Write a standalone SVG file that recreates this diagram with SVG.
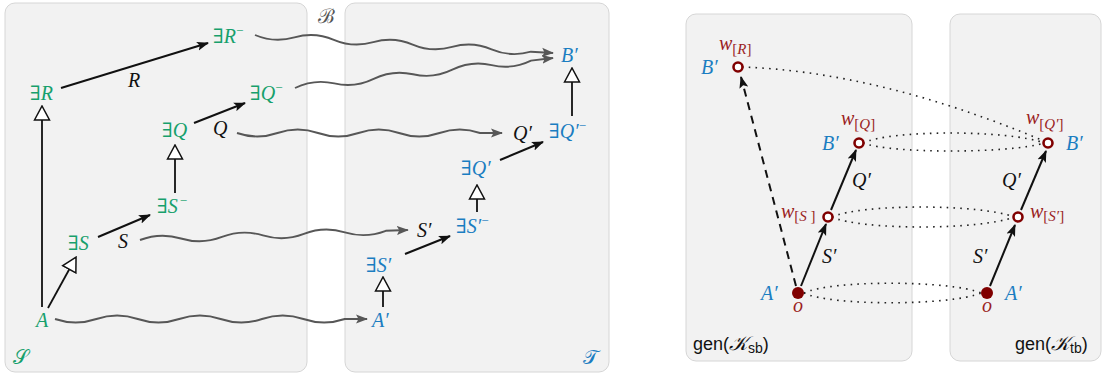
<svg xmlns="http://www.w3.org/2000/svg" width="1103" height="376" viewBox="0 0 1103 376">
<style>
.panel{fill:#f2f2f2;stroke:#d6d6d6;stroke-width:1}
.m{font-family:'Liberation Serif','DejaVu Serif',serif;font-size:20px}
.it{font-style:italic}
.g{fill:#17a06c}.b{fill:#1b7dc1}.k{fill:#111}.r{fill:#9b1f1f}
.sub{font-size:15px}
.sup{font-size:13px}
.sans{font-family:'Liberation Sans','DejaVu Sans',sans-serif;font-size:18px;fill:#111}
.ar{fill:none;stroke:#111;stroke-width:2;marker-end:url(#ah)}
.oa{fill:none;stroke:#111;stroke-width:1.8;marker-end:url(#oh)}
.wv{fill:none;stroke:#575757;stroke-width:1.9;marker-end:url(#gh)}
.dot{fill:none;stroke:#222;stroke-width:1.6;stroke-dasharray:1.6 5.2}
.on{fill:#fff;stroke:#800000;stroke-width:2.6}
.fn{fill:#800000}
</style>
<defs>
<marker id="ah" viewBox="0 0 12 10" refX="11" refY="5" markerWidth="12" markerHeight="10" markerUnits="userSpaceOnUse" orient="auto"><path d="M0,0.5 L12,5 L0,9.5 L2.5,5 z" fill="#111"/></marker>
<marker id="gh" viewBox="0 0 12 10" refX="11" refY="5" markerWidth="12" markerHeight="10" markerUnits="userSpaceOnUse" orient="auto"><path d="M0,0.5 L12,5 L0,9.5 L2.5,5 z" fill="#575757"/></marker>
<marker id="oh" viewBox="0 0 16 18" refX="1" refY="9" markerWidth="16" markerHeight="18" markerUnits="userSpaceOnUse" orient="auto"><path d="M1,1.5 L15,9 L1,16.5 z" fill="#fff" stroke="#111" stroke-width="1.5"/></marker>
</defs>

<g id="panels">
<rect id="panel-S" class="panel" x="5" y="3" width="302" height="369" rx="10"/>
<rect id="panel-T" class="panel" x="345" y="3" width="264" height="369" rx="10"/>
<rect id="panel-sb" class="panel" x="686" y="14" width="226" height="347" rx="10"/>
<rect id="panel-tb" class="panel" x="950" y="14" width="151" height="347" rx="10"/>
</g>

<g id="connectors">
<path class="oa" d="M42,307 L42,120"/>
<path class="oa" d="M48,308 L69.3,269.3"/>
<path class="ar" d="M98,237 L150,215"/>
<path class="oa" d="M175,193 L175,159"/>
<path class="ar" d="M194,123 L245,103"/>
<path class="ar" d="M61,88 L208,43"/>
<path class="oa" d="M383,307 L383,291"/>
<path class="ar" d="M405,254 L450,236"/>
<path class="oa" d="M477,212 L477,199"/>
<path class="ar" d="M500,160 L543,142"/>
<path class="oa" d="M572,116 L572,82"/>
<path class="wv" transform="translate(55,319)" d="M0,0 Q20.7,7 41.4,0 T82.8,0 T124.2,0 T165.6,0 T207,0 T248.4,0 T289.8,0 L312,0"/>
<path class="wv" transform="translate(140,240) rotate(-2.14)" d="M0,0 Q20.5,-7 41,0 T82,0 T123,0 T164,0 T205,0 T246,0 L268,0"/>
<path class="wv" transform="translate(237,133)" d="M0,0 Q20.25,7 40.5,0 T81,0 T121.5,0 T162,0 T202.5,0 T243,0 L265,0"/>
<path class="wv" transform="translate(295,88) rotate(-6.63)" d="M0,0 Q19.8,-7 39.6,0 T79.2,0 T118.8,0 T158.4,0 T198,0 T237.6,0 L259.7,0"/>
<path class="wv" transform="translate(255,35) rotate(3.46)" d="M0,0 Q19.75,7 39.5,0 T79,0 T118.5,0 T158,0 T197.5,0 T237,0 T276.5,0 L298.5,0"/>
<path class="dot" d="M742,67 Q880,72 1044,141"/>
<path class="dot" d="M863,143 C890,129.7 1010,129.7 1044,143"/>
<path class="dot" d="M863,143 C890,153.7 1010,153.7 1044,143"/>
<path class="dot" d="M832,217 C860,203.7 980,203.7 1014,217"/>
<path class="dot" d="M832,217 C860,230.3 980,230.3 1014,217"/>
<path class="dot" d="M804,293 C830,280 950,280 981,293"/>
<path class="dot" d="M804,293 C830,306 950,306 981,293"/>
<path class="ar" d="M801,286 L826,224"/>
<path class="ar" d="M831,210 L856,150"/>
<path class="ar" stroke-dasharray="8 6" d="M796,286 L741,77"/>
<path class="ar" d="M990,286 L1015,225"/>
<path class="ar" d="M1021,210 L1046,151"/>
</g>

<g id="labels-left">
<text class="m" x="318" y="23" fill="#555" font-size="17">ℬ</text>
<text class="m g" x="13" y="364" font-size="22">𝒮</text>
<text class="m b" x="583" y="364" font-size="22">𝒯</text>
</g>

<g id="n-A"><text class="m g it" x="36" y="327">A</text></g>
<g id="n-ES"><text class="m g" x="68" y="250">∃<tspan class="it">S</tspan></text></g>
<g id="e-S"><text class="m k it" x="118" y="248">S</text></g>
<g id="n-ESm"><text class="m g" x="157" y="213">∃<tspan class="it">S</tspan><tspan class="sup" dx="2" dy="-8">−</tspan></text></g>
<g id="n-EQ"><text class="m g" x="162" y="137">∃<tspan class="it">Q</tspan></text></g>
<g id="e-Q"><text class="m k it" x="213" y="135">Q</text></g>
<g id="n-EQm"><text class="m g" x="250" y="100">∃<tspan class="it">Q</tspan><tspan class="sup" dy="-8">−</tspan></text></g>
<g id="n-ER"><text class="m g" x="30" y="100">∃<tspan class="it">R</tspan></text></g>
<g id="e-R"><text class="m k it" x="128" y="87">R</text></g>
<g id="n-ERm"><text class="m g" x="213" y="43">∃<tspan class="it">R</tspan><tspan class="sup" dy="-8">−</tspan></text></g>

<g id="n-A2"><text class="m b it" x="372" y="327">A′</text></g>
<g id="n-ES2"><text class="m b" x="366" y="272">∃<tspan class="it">S′</tspan></text></g>
<g id="e-S2"><text class="m k it" x="417" y="237">S′</text></g>
<g id="n-ES2m"><text class="m b" x="456" y="233">∃<tspan class="it">S′</tspan><tspan class="sup" dy="-8">−</tspan></text></g>
<g id="n-EQ2"><text class="m b" x="461" y="175">∃<tspan class="it">Q′</tspan></text></g>
<g id="e-Q2"><text class="m k it" x="513" y="140">Q′</text></g>
<g id="n-EQ2m"><text class="m b" x="549" y="138">∃<tspan class="it">Q′</tspan><tspan class="sup" dy="-8">−</tspan></text></g>
<g id="n-B2"><text class="m b it" x="561" y="62">B′</text></g>

<g id="r-wR">
<circle class="on" cx="738" cy="67" r="4.5"/>
<text class="m r" x="719" y="50"><tspan class="it">w</tspan><tspan class="sub" dy="4">[<tspan class="it">R</tspan>]</tspan></text>
<text class="m b it" x="701" y="74">B′</text>
</g>
<g id="r-wQ">
<circle class="on" cx="859" cy="143" r="4.5"/>
<text class="m r" x="841" y="125"><tspan class="it">w</tspan><tspan class="sub" dy="4">[<tspan class="it">Q</tspan>]</tspan></text>
<text class="m b it" x="822" y="150">B′</text>
</g>
<g id="r-wS">
<circle class="on" cx="828" cy="217" r="4.5"/>
<text class="m r" x="781" y="218"><tspan class="it">w</tspan><tspan class="sub" dy="3">[<tspan class="it">S</tspan> ]</tspan></text>
</g>
<g id="r-o1">
<circle class="fn" cx="798" cy="293" r="6"/>
<text class="m r it" x="793" y="312">o</text>
<text class="m b it" x="761" y="300">A′</text>
</g>
<g id="r-lab1">
<text class="m k it" x="822" y="263">S′</text>
<text class="m k it" x="852" y="187">Q′</text>
<text class="sans" x="693" y="350">gen(<tspan class="m it" font-size="19">𝒦</tspan><tspan font-size="14" dy="3">sb</tspan><tspan dy="-3">)</tspan></text>
</g>
<g id="r-wQ2">
<circle class="on" cx="1048" cy="143" r="4.5"/>
<text class="m r" x="1026" y="124"><tspan class="it">w</tspan><tspan class="sub" dy="5">[<tspan class="it">Q′</tspan>]</tspan></text>
<text class="m b it" x="1066" y="150">B′</text>
</g>
<g id="r-wS2">
<circle class="on" cx="1018" cy="217" r="4.5"/>
<text class="m r" x="1030" y="218"><tspan class="it">w</tspan><tspan class="sub" dy="3">[<tspan class="it">S′</tspan>]</tspan></text>
</g>
<g id="r-o2">
<circle class="fn" cx="987" cy="293" r="6"/>
<text class="m r it" x="982" y="312">o</text>
<text class="m b it" x="1005" y="300">A′</text>
</g>
<g id="r-lab2">
<text class="m k it" x="973" y="263">S′</text>
<text class="m k it" x="1002" y="187">Q′</text>
<text class="sans" x="1015" y="350">gen(<tspan class="m it" font-size="19">𝒦</tspan><tspan font-size="14" dy="3">tb</tspan><tspan dy="-3">)</tspan></text>
</g>
</svg>
